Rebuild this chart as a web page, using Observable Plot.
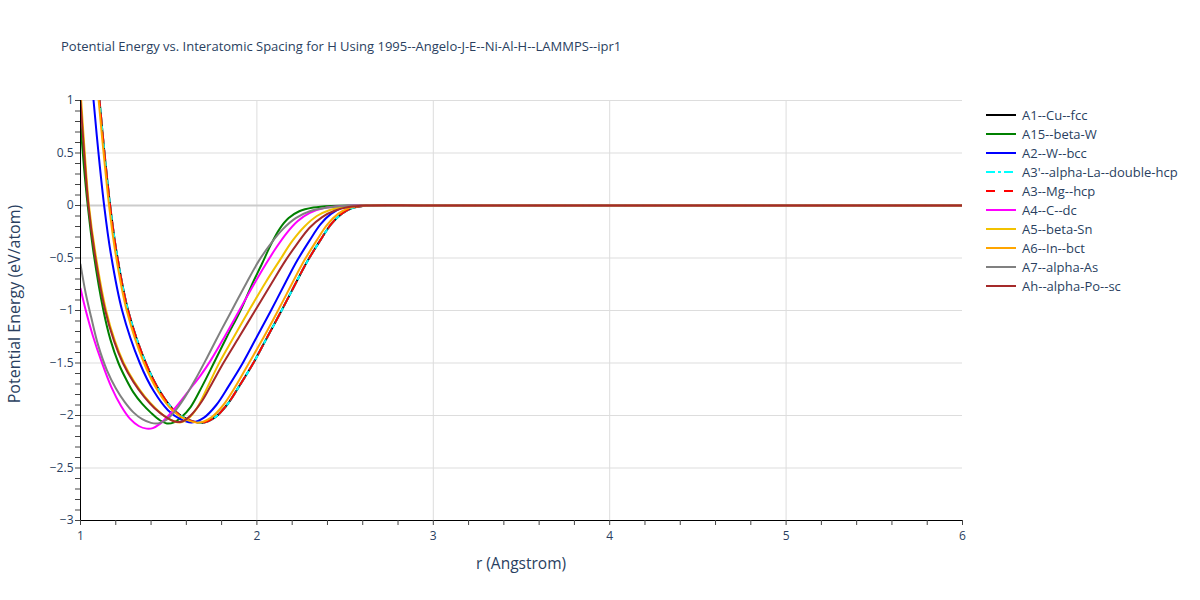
<!DOCTYPE html>
<html>
<head>
<meta charset="utf-8">
<script src="https://cdn.jsdelivr.net/npm/d3@7"></script>
<script src="https://cdn.jsdelivr.net/npm/@observablehq/plot@0.6"></script>
<style>
  html, body { margin: 0; padding: 0; background: #fff; }
  #wrap { position: relative; width: 1200px; height: 600px; font-family: "Open Sans", sans-serif; color: #2a3f5f; }
  #title { position: absolute; left: 61px; top: 37px; font-size: 13px; white-space: nowrap; }
  #legend { position: absolute; left: 985px; top: 105px; font-size: 13px; }
  .item { display: flex; align-items: center; height: 19px; }
  .item svg { margin-right: 5px; }
  #ylabel { position: absolute; left: 14px; top: 304px; transform: translate(-50%, -50%) rotate(-90deg); font-size: 16px; white-space: nowrap; }
  #xlabel { position: absolute; left: 521px; top: 563px; transform: translate(-50%, -50%); font-size: 15.5px; white-space: nowrap; }
</style>
</head>
<body>
<div id="wrap">
  <div id="chart"></div>
  <div id="title">Potential Energy vs. Interatomic Spacing for H Using 1995--Angelo-J-E--Ni-Al-H--LAMMPS--ipr1</div>
  <div id="ylabel">Potential Energy (eV/atom)</div>
  <div id="xlabel">r (Angstrom)</div>
  <div id="legend"></div>
</div>
<script>
// Series names, colours and dash styles
const names = ["A1--Cu--fcc", "A15--beta-W", "A2--W--bcc", "A3'--alpha-La--double-hcp", "A3--Mg--hcp",
               "A4--C--dc", "A5--beta-Sn", "A6--In--bct", "A7--alpha-As", "Ah--alpha-Po--sc"];
const colors = ["#000000", "#008000", "#0000ff", "#00ffff", "#ff0000", "#ff00ff", "#f2c200", "#ffa500", "#808080", "#a52a2a"];
const dashes = [null, null, null, "9,3,3,3", "9,9", null, null, null, null, null];

// r (Angstrom) and energy (eV/atom)
const rA1  = [1.07, 1.108, 1.136, 1.168, 1.205, 1.27, 1.37, 1.45, 1.53, 1.61, 1.69, 1.76, 1.83, 1.90, 1.98, 2.06, 2.14, 2.22, 2.29, 2.36, 2.42, 2.48, 2.54, 2.6, 2.68, 3, 6];
const eA1  = [1.72, 1.0, 0.5, 0.0, -0.45, -1.0, -1.5, -1.77, -1.95, -2.04, -2.068, -2.02, -1.90, -1.72, -1.5, -1.25, -1.0, -0.74, -0.52, -0.33, -0.18, -0.08, -0.025, -0.005, 0, 0, 0];
const rA15 = [1.0, 1.02, 1.041, 1.074, 1.13, 1.17, 1.215, 1.26, 1.30, 1.35, 1.40, 1.45, 1.49, 1.53, 1.57, 1.624, 1.69, 1.756, 1.83, 1.907, 1.97, 2.03, 2.08, 2.13, 2.18, 2.24, 2.32, 2.42, 2.55, 3, 6];
const eA15 = [0.78, 0.36, 0.0, -0.45, -1.0, -1.28, -1.5, -1.66, -1.78, -1.89, -1.975, -2.045, -2.076, -2.065, -2.02, -1.92, -1.72, -1.5, -1.25, -1.0, -0.76, -0.55, -0.37, -0.22, -0.12, -0.055, -0.02, -0.004, 0, 0, 0];
const rA2  = [1.036, 1.074, 1.102, 1.134, 1.171, 1.236, 1.336, 1.416, 1.496, 1.566, 1.63, 1.70, 1.77, 1.84, 1.92, 2.00, 2.08, 2.16, 2.23, 2.30, 2.36, 2.42, 2.48, 2.54, 2.62, 3, 6];
const eA2  = [1.72, 1.0, 0.5, 0.0, -0.45, -1.0, -1.5, -1.77, -1.95, -2.035, -2.066, -2.02, -1.90, -1.72, -1.5, -1.25, -1.0, -0.74, -0.52, -0.33, -0.18, -0.08, -0.025, -0.005, 0, 0, 0];
const rA3p = rA1.slice();
const eA3p = eA1.slice();
const rA3  = rA1.slice();
const eA3  = eA1.slice();
const rA4  = [1.0, 1.03, 1.07, 1.12, 1.175, 1.23, 1.28, 1.33, 1.375, 1.41, 1.45, 1.50, 1.56, 1.62, 1.68, 1.74, 1.82, 1.90, 1.98, 2.05, 2.11, 2.17, 2.23, 2.30, 2.38, 2.48, 2.6, 3, 6];
const eA4  = [-0.79, -1.0, -1.24, -1.49, -1.73, -1.91, -2.03, -2.10, -2.125, -2.12, -2.08, -2.0, -1.88, -1.75, -1.62, -1.47, -1.24, -1.0, -0.76, -0.56, -0.40, -0.26, -0.15, -0.07, -0.025, -0.005, 0, 0, 0];
const rA5  = [1.0, 1.02, 1.048, 1.084, 1.145, 1.195, 1.245, 1.305, 1.365, 1.425, 1.48, 1.53, 1.57, 1.61, 1.66, 1.72, 1.78, 1.87, 1.955, 2.05, 2.13, 2.20, 2.27, 2.34, 2.41, 2.50, 2.6, 3, 6];
const eA5  = [1.1, 0.6, 0.0, -0.45, -1.0, -1.29, -1.50, -1.68, -1.82, -1.93, -2.01, -2.055, -2.065, -2.03, -1.93, -1.73, -1.52, -1.25, -1.0, -0.73, -0.52, -0.34, -0.20, -0.10, -0.045, -0.012, 0, 0, 0];
const rA6  = [1.065, 1.103, 1.131, 1.162, 1.198, 1.262, 1.36, 1.44, 1.52, 1.60, 1.67, 1.74, 1.81, 1.88, 1.955, 2.04, 2.12, 2.20, 2.27, 2.34, 2.40, 2.46, 2.52, 2.58, 2.66, 3, 6];
const eA6  = [1.72, 1.0, 0.5, 0.0, -0.45, -1.0, -1.5, -1.77, -1.95, -2.04, -2.068, -2.02, -1.90, -1.72, -1.50, -1.25, -1.0, -0.74, -0.52, -0.33, -0.18, -0.08, -0.025, -0.005, 0, 0, 0];
const rA7  = [1.0, 1.03, 1.06, 1.10, 1.15, 1.20, 1.25, 1.30, 1.35, 1.40, 1.44, 1.48, 1.53, 1.59, 1.65, 1.72, 1.80, 1.87, 1.94, 2.01, 2.08, 2.15, 2.22, 2.30, 2.40, 2.50, 2.6, 3, 6];
const eA7  = [-0.56, -0.84, -1.06, -1.33, -1.57, -1.74, -1.87, -1.97, -2.035, -2.07, -2.075, -2.05, -1.97, -1.83, -1.66, -1.44, -1.18, -0.96, -0.74, -0.53, -0.36, -0.22, -0.12, -0.055, -0.02, -0.005, 0, 0, 0];
const rAh  = [1.0, 1.02, 1.045, 1.08, 1.14, 1.19, 1.24, 1.30, 1.36, 1.42, 1.48, 1.54, 1.58, 1.63, 1.69, 1.75, 1.81, 1.90, 1.99, 2.08, 2.16, 2.23, 2.30, 2.37, 2.44, 2.52, 2.62, 3, 6];
const eAh  = [1.0, 0.52, 0.0, -0.45, -1.0, -1.29, -1.50, -1.68, -1.82, -1.93, -2.01, -2.06, -2.055, -1.99, -1.86, -1.68, -1.50, -1.25, -1.0, -0.75, -0.53, -0.36, -0.21, -0.11, -0.05, -0.015, 0, 0, 0];

const rs = [rA1, rA15, rA2, rA3p, rA3, rA4, rA5, rA6, rA7, rAh];
const es = [eA1, eA15, eA2, eA3p, eA3, eA4, eA5, eA6, eA7, eAh];

// Axis ticks
const xTickLabels = [1, 2, 3, 4, 5, 6];
const yTickLabels = [-3, -2.5, -2, -1.5, -1, -0.5, 0, 0.5, 1];
const xMinor = d3.range(5, 31).map(i => i / 5);
const yMinor = d3.range(-30, 11).map(i => i / 10);

const series = names.map((n, i) => rs[i].map((r, j) => ({name: n, r, E: es[i][j]})));

const fmt = d3.format("~g");
const lineMarks = series.map((data, i) => Plot.line(data, {
  x: "r", y: "E", stroke: colors[i], strokeWidth: 2,
  strokeDasharray: dashes[i] || undefined, curve: "catmull-rom", clip: true
}));

const chart = Plot.plot({
  width: 1200, height: 600,
  marginLeft: 80, marginRight: 238, marginTop: 100, marginBottom: 80,
  x: {domain: [1, 6]},
  y: {domain: [-3, 1]},
  style: {fontFamily: "Open Sans, sans-serif", fontSize: "12px", color: "#2a3f5f", background: "#fff"},
  marks: [
    Plot.ruleY(yTickLabels.filter(v => v !== 0 && v !== -3), {stroke: "#dddddd", strokeWidth: 1}),
    Plot.ruleX(xTickLabels.filter(v => v > 1 && v < 6), {stroke: "#dddddd", strokeWidth: 1}),
    Plot.ruleY([0], {stroke: "#cccccc", strokeWidth: 2}),
    ...lineMarks,
    Plot.ruleX([1], {stroke: "#000"}),
    Plot.ruleY([-3], {stroke: "#000"}),
    Plot.axisX({ticks: xMinor, tickSize: 5, stroke: "#444", tickFormat: () => "", label: null}),
    Plot.axisX({ticks: xTickLabels, tickSize: 0, tickPadding: 11, tickFormat: fmt, label: null, color: "#2a3f5f"}),
    Plot.axisY({ticks: yMinor, tickSize: 5, stroke: "#444", tickFormat: () => "", label: null}),
    Plot.axisY({ticks: yTickLabels, tickSize: 0, tickPadding: 7, tickFormat: fmt, label: null, color: "#2a3f5f"})
  ]
});
document.getElementById("chart").appendChild(chart);

// Legend
const legend = document.getElementById("legend");
names.forEach((n, i) => {
  const div = document.createElement("div");
  div.className = "item";
  const dash = dashes[i] ? `stroke-dasharray="${dashes[i]}"` : "";
  div.innerHTML = `<svg width="32" height="6"><line x1="1" y1="3" x2="31" y2="3" stroke="${colors[i]}" stroke-width="2" ${dash}/></svg><span>${n}</span>`;
  legend.appendChild(div);
});
</script>
</body>
</html>
